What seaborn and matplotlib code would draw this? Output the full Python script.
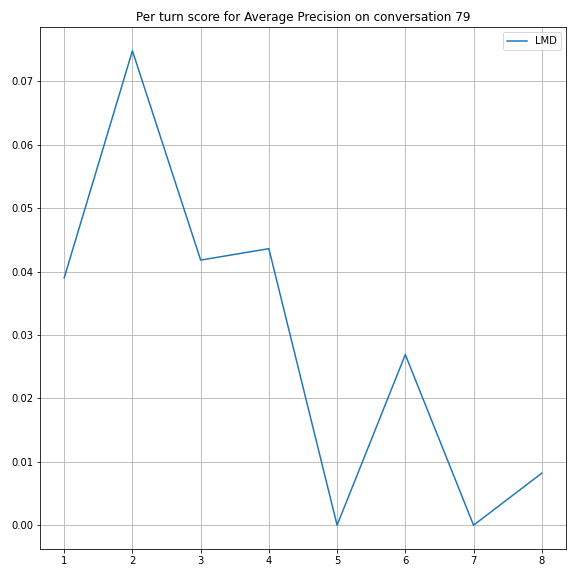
import matplotlib
matplotlib.use("Agg")
import matplotlib.pyplot as plt
import seaborn as sns
import pandas as pd

# per-turn scores
turns = [1, 2, 3, 4, 5, 6, 7, 8]
lmd_scores = [0.0390, 0.0748, 0.0418, 0.0436, 0.0, 0.0269, 0.0, 0.0082]

df = pd.DataFrame({"turn": turns, "score": lmd_scores})

fig, ax = plt.subplots(figsize=(8, 8), dpi=72)
sns.lineplot(x="turn", y="score", data=df, ax=ax, label="LMD", color="#1f77b4")

ax.set_title("Per turn score for Average Precision on conversation 79")
ax.set_xlabel("")
ax.set_ylabel("")
ax.grid(True)
ax.legend(loc="upper right")

plt.subplots_adjust(left=0.07, right=0.982, top=0.953, bottom=0.047)
plt.savefig("out.png", dpi=72)
